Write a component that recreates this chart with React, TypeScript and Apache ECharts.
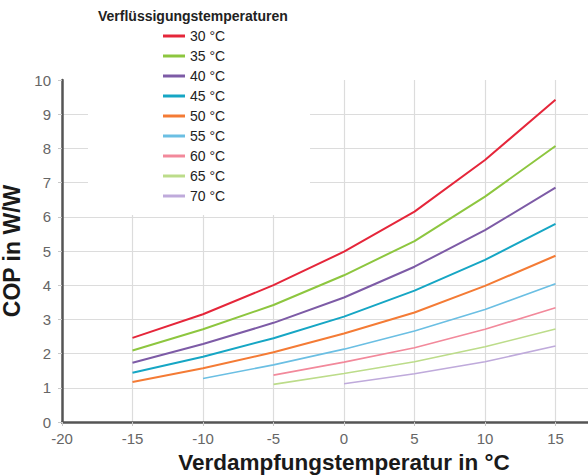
import React, { useEffect, useRef } from "react";
import * as echarts from "echarts";

const xValues = [-15, -10, -5, 0, 5, 10, 15];
const seriesNames = ["30 °C", "35 °C", "40 °C", "45 °C", "50 °C", "55 °C", "60 °C", "65 °C", "70 °C"];
const cop30 = [2.46, 3.15, 4.0, 4.98, 6.15, 7.66, 9.42];
const cop35 = [2.09, 2.71, 3.42, 4.29, 5.29, 6.59, 8.07];
const cop40 = [1.73, 2.28, 2.9, 3.64, 4.54, 5.61, 6.85];
const cop45 = [1.44, 1.91, 2.45, 3.08, 3.84, 4.74, 5.79];
const cop50 = [1.17, 1.57, 2.04, 2.59, 3.2, 3.98, 4.86];
const cop55 = [null, 1.27, 1.67, 2.13, 2.66, 3.29, 4.04];
const cop60 = [null, null, 1.37, 1.75, 2.17, 2.71, 3.34];
const cop65 = [null, null, 1.1, 1.42, 1.76, 2.2, 2.72];
const cop70 = [null, null, null, 1.12, 1.41, 1.76, 2.22];
const allSeries = [cop30, cop35, cop40, cop45, cop50, cop55, cop60, cop65, cop70];
const colors = ["#e5263a", "#8dc63f", "#7d5ba6", "#16a6c4", "#f47b35", "#6bbfe3", "#f2899b", "#bcdc8a", "#bfaadb"];
const widths = [2, 2, 2, 2, 2, 1.6, 1.6, 1.6, 1.6];

const legendTitle = "Verflüssigungstemperaturen";
const xName = "Verdampfungstemperatur in °C";
const yName = "COP in W/W";

export default function App() {
  const ref = useRef<HTMLDivElement>(null);
  useEffect(() => {
    if (!ref.current) return;
    const chart = echarts.init(ref.current, null, { renderer: "svg" });
    const font = "Liberation Sans, Arial, sans-serif";
    chart.setOption({
      animation: false,
      textStyle: { fontFamily: font },
      title: {
        text: legendTitle,
        left: 98,
        top: 9,
        padding: 0,
        textStyle: { fontSize: 14, fontWeight: "bold", color: "#222", fontFamily: font },
        z: 6,
      },
      legend: {
        orient: "vertical",
        left: 163,
        top: 29,
        padding: 0,
        itemWidth: 22,
        itemHeight: 3,
        itemGap: 6,
        icon: "rect",
        textStyle: { fontSize: 14, color: "#222", lineHeight: 14, fontFamily: font },
        data: seriesNames,
      },
      graphic: [
        {
          type: "rect",
          z: 1,
          shape: { x: 88, y: 0, width: 222, height: 215 },
          style: { fill: "#ffffff" },
        },
      ],
      grid: { left: 62, top: 80, bottom: 54, right: 14, outerBoundsMode: "none" },
      xAxis: {
        type: "value",
        min: -20,
        max: 20,
        interval: 5,
        name: xName,
        nameLocation: "middle",
        nameGap: 28,
        nameTextStyle: { fontSize: 22.5, fontWeight: "bold", color: "#1a1a1a", fontFamily: font },
        axisLine: { show: true, onZero: false, lineStyle: { color: "#555", width: 2.5 } },
        axisTick: { show: true, length: 4, lineStyle: { color: "#c8c8c8", width: 1 } },
        axisLabel: { fontSize: 15, color: "#666", margin: 9, fontFamily: font, showMaxLabel: false },
        splitLine: { show: true, showMinLine: false, lineStyle: { color: "#dcdcdc", width: 1.2 } },
      },
      yAxis: {
        type: "value",
        min: 0,
        max: 10,
        interval: 1,
        name: yName,
        nameLocation: "middle",
        nameGap: 35,
        nameTextStyle: { fontSize: 23, fontWeight: "bold", color: "#1a1a1a", fontFamily: font },
        axisLine: { show: true, onZero: false, lineStyle: { color: "#555", width: 2.5 } },
        axisTick: { show: true, length: 4, lineStyle: { color: "#c8c8c8", width: 1 } },
        axisLabel: { fontSize: 15, color: "#666", margin: 11, fontFamily: font },
        splitLine: { show: true, showMaxLine: false, lineStyle: { color: "#dcdcdc", width: 1.2 } },
      },
      series: allSeries.map((vals, i) => ({
        name: seriesNames[i],
        type: "line",
        z: 3,
        showSymbol: false,
        symbol: "none",
        color: colors[i],
        lineStyle: { color: colors[i], width: widths[i] },
        data: xValues
          .map((x, j) => (vals[j] == null ? null : [x, vals[j]]))
          .filter((d) => d !== null),
      })),
    });
    return () => chart.dispose();
  }, []);
  return (
    <div
      style={{ position: "fixed", left: 0, top: 0, width: 588, height: 476, overflow: "hidden", background: "#fff" }}
    >
      <div ref={ref} style={{ width: 640, height: 476 }} />
    </div>
  );
}
